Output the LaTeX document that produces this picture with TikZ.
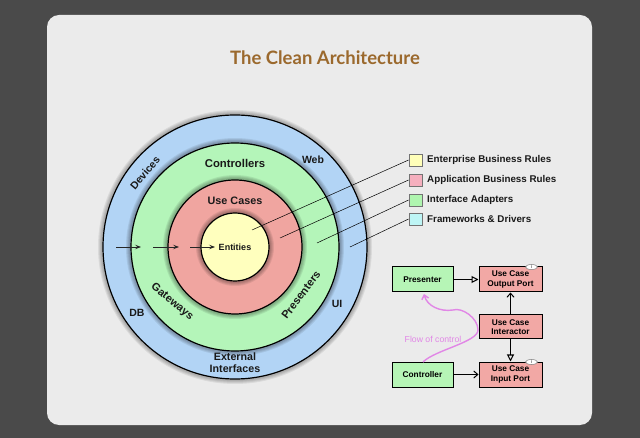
\documentclass[tikz,border=0pt]{standalone}
\usepackage{fontspec}
\setmainfont{Liberation Sans}
\newfontfamily\titlefont{Lato}
\usetikzlibrary{arrows.meta,shapes.geometric}
\definecolor{bgdark}{HTML}{4A4A4A}
\definecolor{panel}{HTML}{EBEBEB}
\definecolor{ringblue}{RGB}{178,212,245}
\definecolor{ringgreen}{RGB}{180,245,185}
\definecolor{ringred}{RGB}{240,165,160}
\definecolor{ringyellow}{RGB}{255,255,190}
\definecolor{legyellow}{RGB}{255,255,185}
\definecolor{legpink}{RGB}{245,175,190}
\definecolor{leggreen}{RGB}{175,245,175}
\definecolor{legcyan}{RGB}{190,245,245}
\definecolor{titlebrown}{RGB}{155,105,45}
\definecolor{flowpink}{RGB}{225,135,230}
\definecolor{boxred}{RGB}{242,168,165}
\definecolor{boxgreen}{RGB}{182,245,182}
\tikzset{
  ring/.style={circle, draw=black, line width=1.2pt, inner sep=0pt},
  lab/.style={font=\bfseries\fontsize{10.5}{12}\selectfont, inner sep=1pt, text=black!90},
  legbox/.style={draw=black!55, line width=0.8pt, minimum width=13pt, minimum height=12pt, inner sep=0pt},
  legtext/.style={font=\bfseries\fontsize{9.8}{11}\selectfont, anchor=west, inner sep=0pt, text=black!90},
  legline/.style={draw=black, line width=0.5pt},
  ringarrow/.style={draw=black!85, line width=0.8pt, -{Stealth[length=6pt,width=4.5pt,inset=2.5pt]}},
  portbox/.style={draw=black, line width=1pt, fill=boxred, minimum width=63pt, minimum height=25pt, inner sep=0pt, align=center, font=\bfseries\fontsize{8.3}{9.5}\selectfont},
  adaptbox/.style={draw=black, line width=1pt, fill=boxgreen, minimum width=61pt, minimum height=25pt, inner sep=0pt, align=center, font=\bfseries\fontsize{8.3}{9.5}\selectfont},
  conn/.style={draw=black, line width=1pt},
  icon/.style={ellipse, draw=black!50, fill=white, line width=0.5pt, minimum width=12pt, minimum height=5pt, inner sep=0pt, font=\fontsize{4}{4}\selectfont}
}
\begin{document}
\begin{tikzpicture}[x=1pt,y=-1pt]
\useasboundingbox (0,0) rectangle (640,438);
\fill[bgdark] (0,0) rectangle (640,438);
\fill[panel, rounded corners=12pt] (47,15) rectangle (592,425);

\node[font=\titlefont\bfseries\fontsize{18.5}{22}\selectfont, text=titlebrown] (title) at (325,58) {The Clean Architecture};

% rings with soft shadows
\coordinate (c) at (235,247);
\foreach \r in {137,136,135,134} \fill[black,opacity=0.07] (c) circle (\r);
\node[ring, fill=ringblue, minimum size=264pt] (fw) at (c) {};
\foreach \r in {109,108,107,106} \fill[black,opacity=0.08] (c) circle (\r);
\node[ring, fill=ringgreen, minimum size=208pt] (ia) at (c) {};
\foreach \r in {72,71,70,69} \fill[black,opacity=0.08] (c) circle (\r);
\node[ring, fill=ringred, minimum size=134pt] (uc) at (c) {};
\foreach \r in {39,38,37,36} \fill[black,opacity=0.08] (c) circle (\r);
\node[ring, fill=ringyellow, minimum size=68pt] (en) at (c) {};

\node[lab, font=\bfseries\fontsize{11.3}{12}\selectfont] (ctrl) at (235,163) {Controllers};
\node[lab, font=\bfseries\fontsize{10.8}{12}\selectfont] (ucl) at (235,201) {Use Cases};
\node[lab, font=\bfseries\fontsize{9}{10}\selectfont] (ent) at (235,247) {Entities};
\node[lab, rotate=50] (dev) at (145,173) {Devices};
\node[lab] (web) at (313,160) {Web};
\node[lab] (db) at (137,313) {DB};
\node[lab] (ui) at (337,304) {UI};
\node[lab, align=center, font=\bfseries\fontsize{10.7}{12}\selectfont] (ext) at (235,363) {External\\Interfaces};
\node[lab, rotate=-40, font=\bfseries\fontsize{11}{12}\selectfont] (gw) at (172,302) {Gateways};
\node[lab, rotate=53, font=\bfseries\fontsize{11}{12}\selectfont] (pres) at (301,295) {Presenters};

\coordinate (a1s) at (116,247); \coordinate (a1e) at (141,247);
\coordinate (a2s) at (153,247); \coordinate (a2e) at (179,247);
\coordinate (a3s) at (190,247); \coordinate (a3e) at (215,247);
\draw[ringarrow] (a1s) -- (a1e);
\draw[ringarrow] (a2s) -- (a2e);
\draw[ringarrow] (a3s) -- (a3e);

% legend
\node[legbox, fill=legyellow] (l1) at (415.5,160) {};
\node[legbox, fill=legpink] (l2) at (415.5,180) {};
\node[legbox, fill=leggreen] (l3) at (415.5,200) {};
\node[legbox, fill=legcyan] (l4) at (415.5,219) {};
\node[legtext] (t1) at (427,160) {Enterprise Business Rules};
\node[legtext] (t2) at (427,180) {Application Business Rules};
\node[legtext] (t3) at (427,200) {Interface Adapters};
\node[legtext] (t4) at (427,219) {Frameworks \& Drivers};
\coordinate (p1) at (252,230);
\coordinate (p2) at (280,238);
\coordinate (p3) at (317,243);
\coordinate (p4) at (350,247);
\draw[legline] (p1) -- (l1.west);
\draw[legline] (p2) -- (l2.west);
\draw[legline] (p3) -- (l3.west);
\draw[legline] (p4) -- (l4.west);

% flow diagram
\node[adaptbox] (presenter) at (422.5,279.5) {Presenter};
\node[portbox] (outport) at (510.5,279.5) {Use Case\\Output Port};
\node[portbox, minimum height=24pt] (interactor) at (510.5,327) {Use Case\\Interactor};
\node[portbox] (inport) at (510.5,374.5) {Use Case\\Input Port};
\node[adaptbox] (controller) at (422.5,374.5) {Controller};
\node[icon] (ic1) at (531.5,267) {I};
\node[icon] (ic2) at (531.5,362) {I};

\draw[conn, -{Triangle[open,length=7pt,width=7pt]}] (presenter) -- (outport);
\draw[conn, -{Straight Barb[length=4pt,width=7pt]}] (interactor) -- (outport);
\draw[conn, -{Triangle[open,length=7pt,width=7pt]}] (interactor) -- (inport);
\draw[conn, -{Straight Barb[length=4pt,width=7pt]}] (controller) -- (inport);

\coordinate (fs) at (423,362);
\coordinate (fm1) at (478,330);
\coordinate (fm2) at (453,310);
\coordinate (fe) at (424,294);
\draw[flowpink, line width=1.4pt, -{Straight Barb[length=4pt,width=7pt]}]
  (fs) .. controls (435,350) and (478,342) .. (fm1)
       .. controls (478,318) and (462,307) .. (fm2)
       .. controls (440,312) and (427,306) .. (fe);
\node[text=flowpink, font=\fontsize{8.7}{10}\selectfont, inner sep=0pt] (flow) at (433,339) {Flow of control};
\end{tikzpicture}
\end{document}
